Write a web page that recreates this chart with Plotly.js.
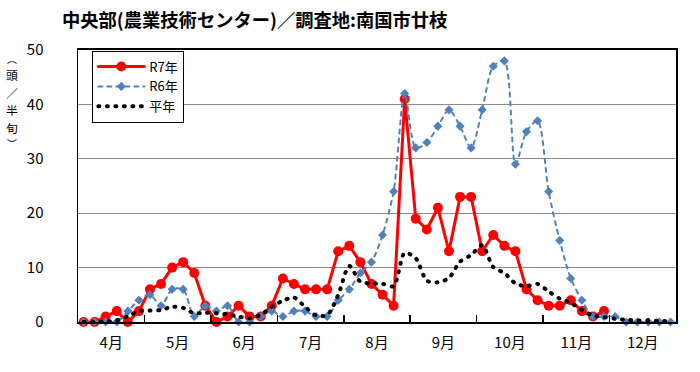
<!DOCTYPE html>
<html>
<head>
<meta charset="utf-8">
<script src="https://cdn.plot.ly/plotly-3.0.1.min.js"></script>
<style>
html,body{margin:0;padding:0;background:#fff;}
#chart{width:700px;height:372px;}
#chart path.js-line{stroke-linecap:round;stroke-linejoin:round;}
</style>
</head>
<body>
<div id="chart"></div>
<script>
// Half-month-period (半旬) counts, April period 1 through December period 6
var months = ['4月','5月','6月','7月','8月','9月','10月','11月','12月'];
var periodsPerMonth = 6;

var r7 = [0,0,1,2,0,2,6,7,10,11,
          9,3,0,1,3,1,1,3,8,7,
          6,6,6,13,14,11,7,5,3,41,
          19,17,21,13,23,23,13,16,14,13,
          6,4,3,3,4,2,1,2,null,null,
          null,null,null,null];

var r6 = [0,0,0,0,2,4,5,3,6,6,
          1,3,2,3,0,0,1,2,1,2,
          2,1,1,4,6,9,11,16,24,42,
          32,33,36,39,36,32,39,47,48,29,
          35,37,24,15,8,4,1,1,1,0,
          0,0,0,0];

var avg = [0,0,0.1,0.3,1.1,2.0,2.1,2.2,2.8,2.6,
           1.6,1.7,1.6,1.4,1.0,0.7,1.3,2.8,3.9,4.5,
           2.8,1.2,1.3,5.0,10.3,7.4,7.1,7.0,6.6,12.7,
           11.7,7.6,7.3,8.1,11.1,12.3,14.1,10.1,9.0,7.1,
           6.6,7.0,5.6,4.3,3.5,2.2,1.2,0.9,0.6,0.4,
           0.3,0.3,0.2,0.2];

var seriesNames = ['R7年','R6年','平年'];
var titleText = '中央部(農業技術センター)／調査地:南国市廿枝';
var yTitleChars = ['︵','頭','／','半','旬','︶'];

var n = months.length * periodsPerMonth;
var xs = [];
for (var i = 0; i < n; i++) xs.push(i);
var monthCenters = months.map(function(_, k){ return k*periodsPerMonth + (periodsPerMonth-1)/2; });
var monthBounds = [];
for (var k = 1; k < months.length; k++) monthBounds.push(k*periodsPerMonth - 0.5);

var FONT = '"Noto Sans CJK JP", "Noto Sans", sans-serif';

var traces = [
  {
    x: xs, y: r7, name: seriesNames[0], type: 'scatter', mode: 'lines+markers',
    line: {color: '#FF0000', width: 3},
    marker: {color: '#FF0000', size: 10, symbol: 'circle'},
    cliponaxis: false, connectgaps: false
  },
  {
    x: xs, y: r6, name: seriesNames[1], type: 'scatter', mode: 'lines+markers',
    line: {color: '#4F81BD', width: 2, dash: '4px,5px', shape: 'spline', smoothing: 0.8},
    marker: {color: '#4F81BD', size: 7, symbol: 'diamond'},
    cliponaxis: false
  },
  {
    x: xs, y: avg, name: seriesNames[2], type: 'scatter', mode: 'lines',
    line: {color: '#000000', width: 4, dash: '1px,7.5px', shape: 'spline', smoothing: 0.8},
    cliponaxis: false
  }
];

// vertical stacked y-axis title, one annotation per glyph
var yTitleAnns = [];
var topPx = 51;
yTitleChars.forEach(function(ch, idx){
  var isParen = (idx === 0 || idx === yTitleChars.length - 1);
  var fs = isParen ? 10 : 11.8;
  var h = fs * 1.46 + 0.3;
  var cy = topPx + h / 2;
  topPx += h;
  yTitleAnns.push({
    xref: 'paper', yref: 'paper',
    x: (12 - 78) / 598, y: (322 - cy) / 272,
    xanchor: 'center', yanchor: 'middle',
    text: ch, showarrow: false,
    font: {family: FONT, size: fs, color: '#000000'}
  });
});

var layout = {
  width: 700, height: 372,
  margin: {l: 78, r: 24, t: 50, b: 50},
  paper_bgcolor: '#ffffff', plot_bgcolor: '#ffffff',
  font: {family: FONT, color: '#000000', size: 14},
  title: {
    text: titleText,
    font: {family: FONT, size: 18.3, color: '#000000', weight: 'bold'},
    xref: 'container', yref: 'container',
    x: 62/700, xanchor: 'left',
    y: 1 - 21/372, yanchor: 'middle'
  },
  xaxis: {
    range: [-0.5, n - 0.5],
    tickmode: 'array', tickvals: monthCenters, ticktext: months,
    ticks: '', showgrid: false, zeroline: false,
    showline: true, linecolor: '#000000', linewidth: 2, mirror: true,
    tickfont: {family: FONT, size: 15, color: '#000000'},
    ticklabelstandoff: 6,
    minor: {tickmode: 'array', tickvals: monthBounds, ticks: 'inside', ticklen: 7, tickwidth: 1.5, tickcolor: '#000000', showgrid: false}
  },
  yaxis: {
    range: [0, 50], dtick: 10, tick0: 0,
    showgrid: true, gridcolor: '#8c8c8c', gridwidth: 1.3,
    zeroline: false,
    showline: true, linecolor: '#000000', linewidth: 1.5, mirror: true,
    ticks: '',
    tickfont: {family: FONT, size: 15, color: '#000000'},
    ticklabelstandoff: 30
  },
  showlegend: true,
  legend: {
    x: 0.024, y: 0.998, xanchor: 'left', yanchor: 'top',
    bgcolor: '#ffffff', bordercolor: '#000000', borderwidth: 1,
    font: {family: FONT, size: 13, color: '#000000'},
    tracegroupgap: 0, itemwidth: 46
  },
  annotations: yTitleAnns
};

Plotly.newPlot('chart', traces, layout, {displayModeBar: false, staticPlot: true});
</script>
</body>
</html>
